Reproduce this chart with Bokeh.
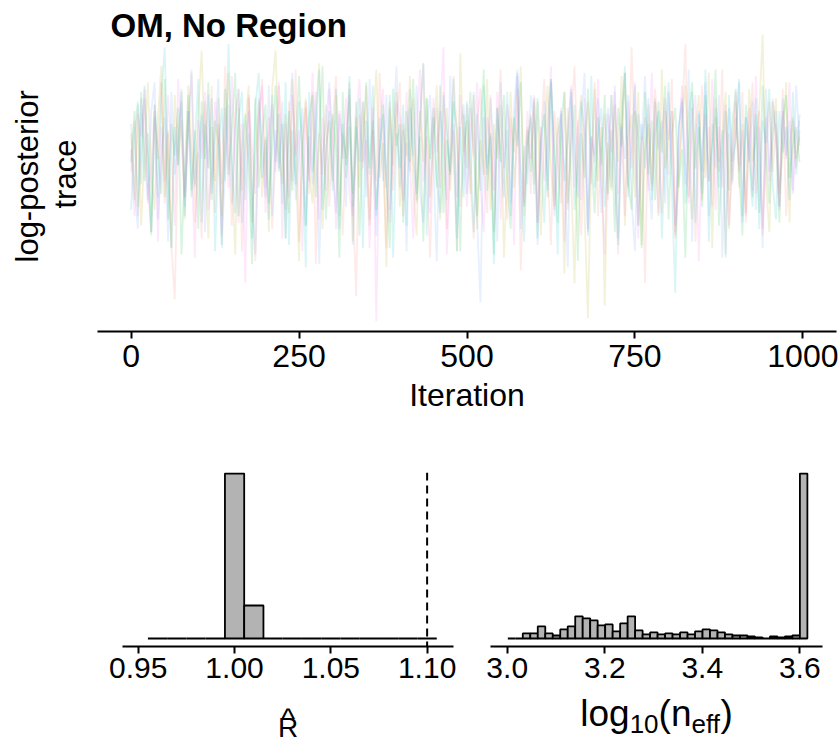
import numpy as np
from bokeh.plotting import figure
from bokeh.models import Label, Range1d, Span, FixedTicker, CustomJSTickFormatter
from bokeh.core.properties import value
from bokeh.layouts import column, row
from bokeh.embed import file_html
from bokeh.resources import INLINE

FONT = "Liberation Sans"

# ---------------- data ----------------
# log-posterior trace, six chains, read every 5th iteration (relative units)
thin = 5
chain_1 = [2, 18, -12, 9, 25, -4, -17, 21, 6, 30, -8, 14, -21, -38, 11, 27, -6, 16, 33, -14,
           8, -19, 24, 3, 29, -11, 17, -2, 35, 10, -15, 20, 28, -23, 5, 26, -7, -26, 13, 31,
           -3, 19, -16, 7, 29, 12, -10, 24, -1, 34, -20, 9, 22, -5, 27, -27, 14, 1, 23, -9,
           17, 32, 4, -18, 12, 26, -6, -37, 20, 5, 29, -13, 15, -1, 33, 8, -22, 24, -4, 18,
           30, -12, 11, 2, 25, -8, 16, 36, 3, -25, 13, 22, -3, 27, -16, 9, 32, 14, -9, 6,
           23, -1, -19, 18, 28, 4, -11, 26, -17, 12, 34, 1, -13, 19, 8, 28, -29, 6, 16, -5,
           24, -14, 13, 31, 2, -21, 21, 7, -8, 27, -10, 17, 35, 4, -18, 12, 24, -2, 30, -12,
           9, 20, -7, 26, 5, -24, 15, 33, -3, 41, 8, -15, 13, -33, 23, -4, 28, 10, -11, 21,
           12, 31, -17, 3, 19, 42, -6, 22, -20, 8, 29, 0, 16, -9, 25, 5, 34, -24, 14, -2,
           19, 4, 27, -14, 11, 30, -5, 21, -18, 7, 24, 2, 17, -10, 28, -12, 10, 18, 3, 15]
chain_2 = [14, -7, 23, -15, 8, 30, 1, -10, 19, 35, -6, 15, -22, 26, 4, 18, -13, 29, 9, -3,
           21, 40, 6, -19, 16, -1, 25, -12, 11, 33, 3, -24, 22, -4, 17, 29, -14, 7, 24, -6,
           13, -17, 28, 40, 9, -2, 20, -11, 31, 5, -26, 12, 25, 2, -8, 21, 36, -16, 10, 18,
           -1, 26, -12, 14, 6, 30, -20, 19, -3, 24, 8, -15, 16, 34, 0, 11, -28, 22, 4, 27,
           -9, 17, 7, 32, -2, -18, 21, 5, 25, -6, 13, 29, -13, 3, 22, -4, 15, -23, 39, 8,
           18, -5, 26, -16, 12, 1, 31, -10, 17, 6, 23, -25, 4, 27, -3, 14, 35, -12, 9, 20,
           -2, 24, -18, 13, 29, 3, -9, 19, 8, -30, 22, 0, -33, 15, 26, -11, -44, 6, 28, -1,
           16, -40, 11, -4, 23, 5, 32, -15, 13, 20, -6, 27, -21, 9, 17, -2, 25, -12, 34, 3,
           12, 21, -19, -1, 18, 29, 4, -13, 15, 26, -7, 10, 33, -22, 19, 2, 14, 27, -16, 7,
           24, -3, 17, -11, 28, 5, 12, 21, 45, -1, -17, 14, 25, -5, 9, 30, -14, 19, 6, 13]
chain_3 = [5, 21, -9, 27, -1, 14, -18, 23, 8, -5, 31, -13, 17, 7, 22, -24, 3, 26, -6, 15,
           -16, 24, 6, 30, -7, 18, 11, -21, 28, 1, 15, 33, -12, 9, 20, 4, -27, 25, -3, 13,
           23, -8, 10, 29, 2, 17, -19, 21, -4, 12, 32, 6, -15, 19, 26, -6, 14, 35, -13, 7,
           20, 9, -25, 27, 0, 16, -5, 24, -18, 11, 30, 3, 18, -10, 8, 23, -2, -22, 28, 10,
           17, -14, 21, 5, 31, -7, 13, -20, 25, 6, 19, -3, 29, -11, 12, 1, 24, 15, -23, 20,
           3, 27, 8, -12, 16, 34, -4, 14, -24, 22, 5, 26, -1, -16, 19, 10, 30, -9, 15, 2,
           25, -19, 12, 20, -6, 31, 7, -14, 17, 27, -8, 9, 23, -26, 14, 0, 28, 6, -11, 19,
           4, 26, -5, 15, -17, 22, 10, 33, -2, -10, 21, 13, -22, 27, 1, 18, -7, 24, 8, 29,
           -13, 14, 22, -3, 9, -25, 19, 30, 3, 16, -9, 26, -1, 11, 34, -15, 8, 21, -4, 17,
           28, 2, -18, 23, 12, -6, 20, -11, 29, 7, -8, 24, 13, -14, 18, 26, 0, 10, 16, 5]
chain_4 = [-10, 13, 24, -2, 29, 7, -17, 19, -6, 26, 41, 1, -22, 16, 4, 28, -12, 21, -4, 12,
           31, -14, 17, 3, 25, -23, 10, 22, -1, 42, 6, -11, 18, 27, -7, 14, -19, 23, 33, 0,
           12, -13, 26, 5, 20, -8, 30, -21, 15, -2, 24, 9, -28, 27, 2, 13, 34, -10, 7, 21,
           -4, 28, -16, 17, 4, 32, -9, 11, 25, -22, 18, 1, 29, -12, 8, 20, -3, 26, -25, 14,
           3, 23, -15, 28, 6, -5, 19, 36, -18, 10, 22, -1, -11, 26, 14, 2, 31, -23, 16, -6,
           24, 8, -17, 20, -4, 29, 3, 13, -27, 22, 7, -6, 27, -12, 15, 33, -2, -20, 11, 19,
           -5, 25, 6, -14, 18, 30, 9, -24, 21, -1, 12, 28, -10, 4, 24, 14, -18, 32, -3, 13,
           22, -9, 7, 26, -1, -21, 19, 35, -6, 11, 29, -15, 17, 3, 25, -7, 14, 21, -19, 8,
           30, -4, -36, 16, 24, -8, 10, 27, -14, 20, 2, 34, -20, 9, 22, -3, 15, -25, 26, 5,
           12, 31, -12, 19, 6, -9, 25, -16, 18, 11, 28, -2, -13, 21, 8, 16, -7, 27, 1, 20]
chain_5 = [17, -3, -16, 25, 9, -8, 21, 30, -13, 6, 19, -20, 27, 1, 12, 24, -9, 14, 34, -2,
           8, 20, -17, 26, -5, 13, 31, -22, 4, 23, -8, 16, 28, -14, 10, 21, -1, -24, 25, 11,
           -6, 29, -12, 15, 3, 24, -19, 18, 33, -7, 9, 22, -15, 13, -2, 27, -27, 7, 17, 30,
           2, -11, 20, 12, -9, 28, -21, 16, 5, 24, -6, 31, 8, -18, 19, -1, 26, -10, 14, 35,
           -3, 15, -23, 22, 7, 29, -4, -14, 17, 26, 4, -26, 21, 11, -7, 32, 6, -19, 16, 23,
           -5, 12, 27, -13, -39, 19, 1, 25, 9, -20, 30, 3, 15, -8, 22, 34, -16, 10, -2, 26,
           18, -21, 8, 24, -4, 31, -12, 14, 20, 2, -28, 27, 9, -6, 18, 33, -17, 13, 5, 25,
           -11, 11, 22, -3, 29, -19, 16, 6, 26, -7, -23, 20, 12, 32, 0, -13, 24, 9, 18, -8,
           27, 4, -15, 15, 25, -2, 34, -20, 11, 21, -5, 30, -12, 17, 3, 26, -25, 8, 22, -1,
           14, 30, -14, 19, 5, 24, -10, 16, -22, 28, 2, 12, 21, -9, 25, 7, 18, -4, 29, 10]
chain_6 = [9, -12, 20, 13, 28, -7, 3, 23, -20, 16, -1, 26, 8, -15, 31, 12, -6, 21, 4, -25,
           18, 6, 27, -10, 1, 24, 14, -18, 22, -3, 32, 5, -14, 17, -33, 25, 9, -5, 20, 29,
           -11, 13, 23, 2, 30, -19, 17, -6, 26, 7, 15, -23, 24, -1, 33, 10, -13, 19, -4, 28,
           14, -16, 21, 6, 25, -5, -12, 18, 31, 3, 12, -22, 22, -45, 16, 28, -2, -14, 10, 24,
           19, -7, 27, 5, -19, 15, 34, -1, 13, -11, 25, 8, 20, 41, -24, 4, 17, -6, 26, 11,
           -9, 22, 7, 30, -2, -17, 19, 12, -4, 27, -13, 9, 23, 14, -21, 32, 3, -8, 21, 6,
           26, -14, 16, -1, 11, 35, -10, 4, 22, -20, 15, 29, -3, 18, -7, 25, -16, 13, 7, 31,
           -2, -24, 20, 8, 27, -5, 17, -12, 24, 3, 30, -19, 11, 19, -4, 33, 6, -11, 14, 25,
           1, 21, -18, 12, 29, 5, -8, 18, 26, -26, 10, 20, -1, 31, -10, 16, -3, 23, -15, 9,
           27, 2, 15, -12, 22, -4, 32, 8, -16, 19, -1, 25, 12, -9, 21, 6, 30, -5, 13, 18]
chains = [chain_1, chain_2, chain_3, chain_4, chain_5, chain_6]
chain_colors = ["#F8766D", "#B79F00", "#00BA38", "#00BFC4", "#619CFF", "#F564E3"]
iteration_ticks = [0, 250, 500, 750, 1000]

# R-hat histogram
rhat_start = 0.955
rhat_binwidth = 0.01
rhat_counts = [0, 0, 0, 0, 365, 73, 0, 0, 0, 0, 0, 0, 0, 0, 0]
rhat_ticks = [0.95, 1.00, 1.05, 1.10]
rhat_threshold = 1.10

# log10(n_eff) histogram
neff_start = 3.0012
neff_binwidth = 0.01536
neff_counts = [0, 0, 5, 5, 12, 5, 3, 9, 12, 22, 20, 18, 13, 14, 7, 15, 22, 8, 4, 6,
               4, 5, 4, 6, 4, 7, 9, 8, 6, 4, 3, 3, 2, 1, 0, 2, 1, 2, 3, 164]
neff_ticks = [3.0, 3.2, 3.4, 3.6]

# ---------------- helpers ----------------
BASE_FIX = 0.36  # empirical shift of the alphabetic baseline, in em


def style_xaxis(p, ticks, size, fmt, standoff):
    ax = p.xaxis[0]
    ax.ticker = FixedTicker(ticks=ticks)
    ax.formatter = CustomJSTickFormatter(code=fmt)
    ax.axis_line_width = 2
    ax.axis_line_color = "black"
    ax.major_tick_line_width = 2
    ax.major_tick_line_color = "black"
    ax.major_tick_out = 7
    ax.major_tick_in = 0
    ax.minor_tick_line_color = None
    ax.major_label_text_font = FONT
    ax.major_label_text_font_size = size
    ax.major_label_text_color = "black"
    ax.major_label_standoff = standoff


def lab(p, x, y, text, size, xo=0, yo=0, align="left", baseline="alphabetic",
        angle=0.0, style="normal"):
    if baseline == "alphabetic":
        yo = yo + BASE_FIX * size
    p.add_layout(Label(x=x, y=y, x_offset=xo, y_offset=yo, text=text,
                       text_font=FONT, text_font_size=f"{size}px",
                       text_font_style=style, text_align=align,
                       text_baseline=baseline, angle=angle, text_color="black"))


def strip(width, height, yr=None):
    s = figure(width=width, height=height, output_backend="svg", toolbar_location=None,
               title=None, x_range=Range1d(0, width),
               y_range=yr if yr is not None else Range1d(0, height),
               x_axis_location=None, y_axis_location=None, min_border=0)
    s.outline_line_color = None
    s.xgrid.visible = False
    s.ygrid.visible = False
    return s


# ---------------- top: trace ----------------
TOP_H = 420
allv = np.concatenate([np.asarray(c, float) for c in chains])
vmin, vmax = allv.min(), allv.max()
TOP_PX, DMAX_PX, DMIN_PX, AXIS_PX = 0, 34, 321, 331
k = (DMIN_PX - DMAX_PX) / (vmax - vmin)
yhi = vmax + (DMAX_PX - TOP_PX) / k
ylo = vmin - (AXIS_PX - DMIN_PX) / k
xlo, xhi = -50, 1050

p1 = figure(width=743, height=TOP_H, output_backend="svg", toolbar_location=None,
            title=None, x_range=Range1d(xlo, xhi), y_range=Range1d(ylo, yhi),
            y_axis_location=None,
            min_border_left=0, min_border_right=4, min_border_top=0,
            min_border_bottom=TOP_H - AXIS_PX)
p1.outline_line_color = None
p1.xgrid.visible = False
p1.ygrid.visible = False
for vals, col in zip(chains, chain_colors):
    xs = np.arange(len(vals)) * thin
    p1.line(xs, vals, line_color=col, line_alpha=0.15, line_width=1.8)
style_xaxis(p1, iteration_ticks, "32px", "return tick.toFixed(0);", 6)
ax1 = p1.xaxis[0]
ax1.axis_label = "Iteration"
ax1.axis_label_text_font = FONT
ax1.axis_label_text_font_size = "32px"
ax1.axis_label_text_font_style = "normal"
ax1.axis_label_text_color = "black"
ax1.axis_label_standoff = 7
lab(p1, xlo, yhi, "OM, No Region", 33, xo=13, yo=-37, style="bold")

# rotated y label; the row aligns this strip's frame with p1's frame (0..AXIS_PX),
# so its y range is given in pixels from the top of that frame
ylab = strip(97, TOP_H, yr=Range1d(AXIS_PX, 0))
ylab.text(x=[27, 65], y=[262, 208], text=["log-posterior", "trace"],
          angle=np.pi / 2, text_align="left", text_baseline="middle",
          text_font=value(FONT), text_font_size=value("31px"), text_color="black")

# ---------------- bottom: histograms ----------------
FRAME_TOP, FRAME_BOT, AX_PANEL = 472, 646, 45
HIST_H = FRAME_BOT - TOP_H + AX_PANEL
LAB_H = 744 - TOP_H - HIST_H


def hist_fig(width, xr, counts, start, bw, ticks, mbl, mbr, fmt):
    cmax = max(counts)
    p = figure(width=width, height=HIST_H, output_backend="svg", toolbar_location=None,
               title=None, x_range=Range1d(*xr),
               y_range=Range1d(-0.0485 * cmax, 1.006 * cmax),
               y_axis_location=None,
               min_border_left=mbl, min_border_right=mbr,
               min_border_top=FRAME_TOP - TOP_H, min_border_bottom=AX_PANEL)
    p.outline_line_color = None
    p.xgrid.visible = False
    p.ygrid.visible = False
    left = [start + i * bw for i in range(len(counts))]
    right = [start + (i + 1) * bw for i in range(len(counts))]
    p.quad(left=left, right=right, bottom=0, top=counts, fill_color="#B3B3B3",
           line_color="black", line_width=1.8)
    style_xaxis(p, ticks, "30px", fmt, 4)
    return p


rx = (0.9418, 1.1137)
p2 = hist_fig(470, rx, rhat_counts, rhat_start, rhat_binwidth, rhat_ticks, 122, 17,
              "return tick.toFixed(2);")
p2.add_layout(Span(location=rhat_threshold, dimension="height", line_color="black",
                   line_width=2, line_dash="8 5"))

nx = (2.9657, 3.6466)
p3 = hist_fig(370, nx, neff_counts, neff_start, neff_binwidth, neff_ticks, 20, 18,
              "return tick.toFixed(1);")

rlab = strip(470, LAB_H)
rcx = 122 + (453 - 122) / 2
lab(rlab, rcx, 744 - 737, "R", 28, align="center")
lab(rlab, rcx, 744 - 729, "^", 30, align="center")

nlab = strip(370, LAB_H)
ncx = 20 + (352 - 20) / 2
M, S = 37, 26
parts = [("log", M, 1.334 * M, 0), ("10", S, 1.112 * S, 1), ("(n", M, 0.889 * M, 0),
         ("eff", S, 1.112 * S, 1), (")", M, 0.333 * M, 0)]
total = sum(w for _, _, w, _ in parts)
cur = ncx - total / 2
for txt, sz, w, sub in parts:
    lab(nlab, cur, 744 - (733 if sub else 726), txt, sz)
    cur += w

layout = column(row(ylab, p1, spacing=0), row(p2, p3, spacing=0),
                row(rlab, nlab, spacing=0), spacing=0)
open("out.html", "w").write(file_html(layout, INLINE))
